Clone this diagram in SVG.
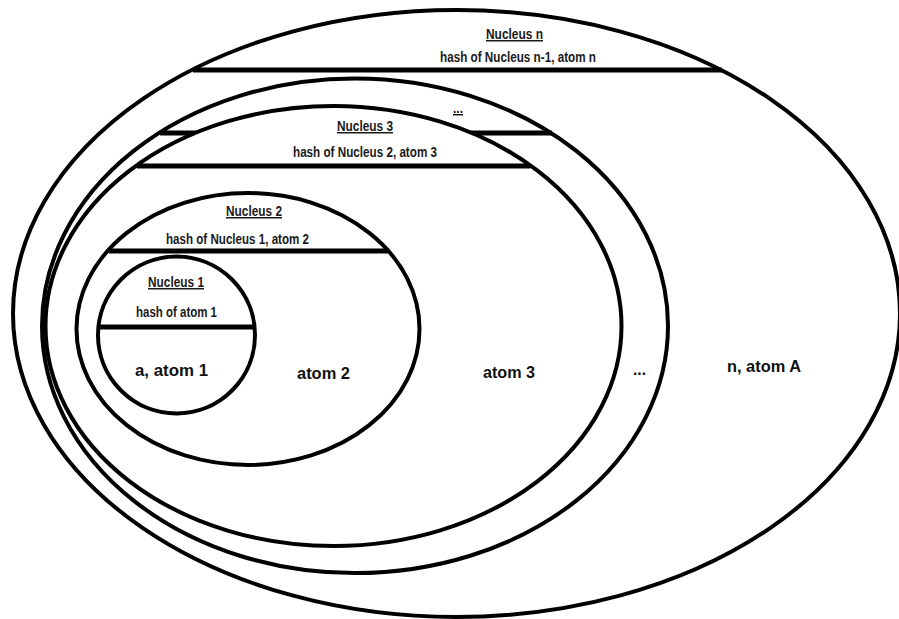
<svg xmlns="http://www.w3.org/2000/svg" width="899" height="619" viewBox="0 0 899 619">
<style>
.shell{fill:#fff;stroke:#000;stroke-width:4}
.chord{stroke:#000;stroke-width:5;fill:none}
.lbl{font-family:"Liberation Sans Narrow","Liberation Sans",Arial,sans-serif;font-size:15px;font-weight:bold;fill:#1a1a1a;text-anchor:middle}
.ul{text-decoration:underline}
.big{font-family:"Liberation Sans",Arial,sans-serif;font-size:17px;font-weight:bold;fill:#111;text-anchor:middle}
</style>
<rect x="0" y="0" width="899" height="619" fill="#fff"/>
<g id="nucleus-n">
<ellipse class="shell" cx="456.5" cy="313.5" rx="443.5" ry="303.5"/>
<line class="chord" x1="193" y1="70" x2="722" y2="70"/>
<text class="lbl ul" x="514.5" y="39" textLength="57" lengthAdjust="spacingAndGlyphs">Nucleus n</text>
<text class="lbl" x="518" y="62" textLength="156" lengthAdjust="spacingAndGlyphs">hash of Nucleus n-1, atom n</text>
<text class="big" x="764" y="372" textLength="74" lengthAdjust="spacingAndGlyphs">n, atom A</text>
</g>
<g id="nucleus-ellipsis">
<ellipse class="shell" cx="355" cy="325.8" rx="313" ry="247.3"/>
<line class="chord" x1="160" y1="133" x2="552" y2="133"/>
<text class="lbl ul" x="458" y="113" textLength="10" lengthAdjust="spacingAndGlyphs">...</text>
<text class="big" x="639.5" y="375" textLength="13" lengthAdjust="spacingAndGlyphs">...</text>
</g>
<g id="nucleus-3">
<ellipse class="shell" cx="333.5" cy="326" rx="288" ry="220"/>
<line class="chord" x1="137" y1="166" x2="530" y2="166"/>
<text class="lbl ul" x="365" y="131" textLength="56" lengthAdjust="spacingAndGlyphs">Nucleus 3</text>
<text class="lbl" x="365" y="157" textLength="144" lengthAdjust="spacingAndGlyphs">hash of Nucleus 2, atom 3</text>
<text class="big" x="509" y="378" textLength="52" lengthAdjust="spacingAndGlyphs">atom 3</text>
</g>
<g id="nucleus-2">
<ellipse class="shell" cx="248" cy="329" rx="171.5" ry="136"/>
<line class="chord" x1="109" y1="251" x2="388" y2="251"/>
<text class="lbl ul" x="254" y="216" textLength="56" lengthAdjust="spacingAndGlyphs">Nucleus 2</text>
<text class="lbl" x="237.5" y="244" textLength="143" lengthAdjust="spacingAndGlyphs">hash of Nucleus 1, atom 2</text>
<text class="big" x="323.5" y="379" textLength="53" lengthAdjust="spacingAndGlyphs">atom 2</text>
</g>
<g id="nucleus-1">
<ellipse class="shell" cx="176.5" cy="335" rx="78.5" ry="78.5"/>
<line class="chord" x1="99" y1="327" x2="254" y2="327"/>
<text class="lbl ul" x="176" y="287" textLength="56" lengthAdjust="spacingAndGlyphs">Nucleus 1</text>
<text class="lbl" x="176.5" y="317" textLength="81" lengthAdjust="spacingAndGlyphs">hash of atom 1</text>
<text class="big" x="171.5" y="376" textLength="73" lengthAdjust="spacingAndGlyphs">a, atom 1</text>
</g>
</svg>
